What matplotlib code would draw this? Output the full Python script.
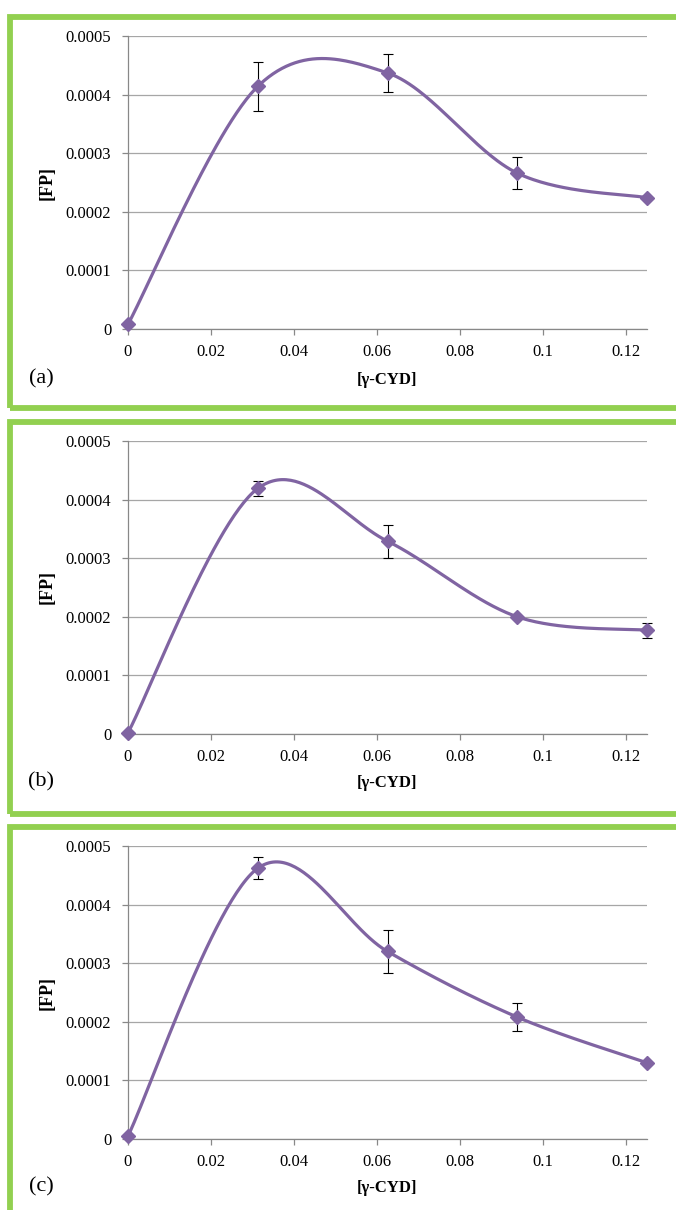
import numpy as np
import matplotlib
matplotlib.use("Agg")
import matplotlib.pyplot as plt
from matplotlib.patches import Rectangle
from matplotlib.ticker import FixedLocator, FuncFormatter

# ---------------- data ----------------
cyd = [0.0, 0.03125, 0.0625, 0.09375, 0.125]

fp_a = [0.000008, 0.000414, 0.000437, 0.000266, 0.000224]
err_a = [0.0, 0.000042, 0.000032, 0.000027, 0.0]

fp_b = [0.000002, 0.000419, 0.000329, 0.000200, 0.000177]
err_b = [0.0, 0.000013, 0.000028, 0.0, 0.000013]

fp_c = [0.000005, 0.000462, 0.000320, 0.000208, 0.000130]
err_c = [0.0, 0.000019, 0.000036, 0.000024, 0.0]

panel_labels = ["(a)", "(b)", "(c)"]
x_ticks = [0, 0.02, 0.04, 0.06, 0.08, 0.1, 0.12]
y_ticks = [0, 0.0001, 0.0002, 0.0003, 0.0004, 0.0005]
x_label = "[\u03b3-CYD]"
y_label = "[FP]"

# ---------------- style ----------------
W, H = 676, 1210
PURPLE = "#8064A2"
GREEN = "#92D050"
GRID = "#A6A6A6"
AXIS = "#888888"
SERIF = ["Liberation Serif", "DejaVu Serif"]

plt.rcParams["font.family"] = SERIF

fig = plt.figure(figsize=(W / 100, H / 100), dpi=100)


def fx(px):
    return px / W


def fy(py):
    return 1 - py / H


# green panel frames (pixel coords: left, top, bottom)
frames = [(10, 16.5, 407.5), (10, 421.5, 814), (10, 826.5, 1240)]
for (l, t, b) in frames:
    r = Rectangle((fx(l), fy(b)), fx(700 - l), (b - t) / H,
                  transform=fig.transFigure, fill=False,
                  edgecolor=GREEN, linewidth=4.2, zorder=0)
    fig.patches.append(r)

# axes positions: (left px, right px, top px, bottom px)
axes_px = [(128, 647, 36, 329), (128, 647, 441, 734), (128, 647, 846, 1139)]
label_y = [380, 783, 1188]

series = [(fp_a, err_a), (fp_b, err_b), (fp_c, err_c)]


def excel_smooth(ax, xs, ys, n=60):
    """Bezier smoothing computed in display space (like Excel's smoothed line)."""
    pts = ax.transData.transform(np.column_stack([xs, ys]))
    m = len(pts)
    out = []
    for i in range(m - 1):
        p0 = pts[i - 1] if i > 0 else pts[i]
        p1 = pts[i]
        p2 = pts[i + 1]
        p3 = pts[i + 2] if i + 2 < m else pts[i + 1]
        c1 = p1 + (p2 - p0) / 6.0
        c2 = p2 - (p3 - p1) / 6.0
        t = np.linspace(0, 1, n)[:, None]
        seg = ((1 - t) ** 3) * p1 + 3 * ((1 - t) ** 2) * t * c1 + \
              3 * (1 - t) * t ** 2 * c2 + t ** 3 * p2
        out.append(seg if i == 0 else seg[1:])
    disp = np.vstack(out)
    dat = ax.transData.inverted().transform(disp)
    return dat[:, 0], dat[:, 1]


fmt = FuncFormatter(lambda v, p: "0" if v == 0 else "%g" % v)

for k, ((l, r, t, b), (ys, es)) in enumerate(zip(axes_px, series)):
    ax = fig.add_axes([fx(l), fy(b), (r - l) / W, (b - t) / H])
    ax.set_xlim(0, 0.125)
    ax.set_ylim(0, 0.0005)

    for s in ["top", "right"]:
        ax.spines[s].set_visible(False)
    for s in ["left", "bottom"]:
        ax.spines[s].set_color(AXIS)
        ax.spines[s].set_linewidth(0.9)

    ax.xaxis.set_major_locator(FixedLocator(x_ticks))
    ax.yaxis.set_major_locator(FixedLocator(y_ticks))
    ax.xaxis.set_major_formatter(fmt)
    ax.yaxis.set_major_formatter(fmt)
    ax.tick_params(axis="both", direction="out", length=4, width=0.9,
                   color=AXIS, labelsize=12, labelcolor="black")
    ax.tick_params(axis="y", pad=8)
    ax.tick_params(axis="x", pad=7)

    ax.yaxis.grid(True, color=GRID, linewidth=0.9)
    ax.set_axisbelow(True)

    fig.canvas.draw()
    sx, sy = excel_smooth(ax, cyd, ys)
    ax.plot(sx, sy, color=PURPLE, linewidth=2.3, zorder=3,
            solid_capstyle="round", clip_on=False)

    idx = [i for i, e in enumerate(es) if e > 0]
    ax.errorbar([cyd[i] for i in idx], [ys[i] for i in idx],
                yerr=[es[i] for i in idx], fmt="none", ecolor="black",
                elinewidth=0.8, capsize=3.5, capthick=0.8, zorder=4,
                clip_on=False)

    ax.plot(cyd, ys, linestyle="none", marker="D", markersize=7.5,
            color=PURPLE, markeredgecolor=PURPLE, zorder=5, clip_on=False)

    ax.set_xlabel(x_label, fontsize=12, fontweight="bold", family=SERIF,
                  va="center")
    ax.xaxis.set_label_coords(0.5, -(label_y[k] - b) / (b - t))
    ax.set_ylabel(y_label, fontsize=13, fontweight="bold", family=SERIF,
                  va="center")
    ax.yaxis.set_label_coords(-(128 - 47) / (r - l), 0.5)

    fig.text(fx(41), fy(label_y[k] - 1), panel_labels[k],
             fontsize=16, ha="center", va="center", family=SERIF)

fig.savefig("out.png", dpi=100, facecolor="white")
